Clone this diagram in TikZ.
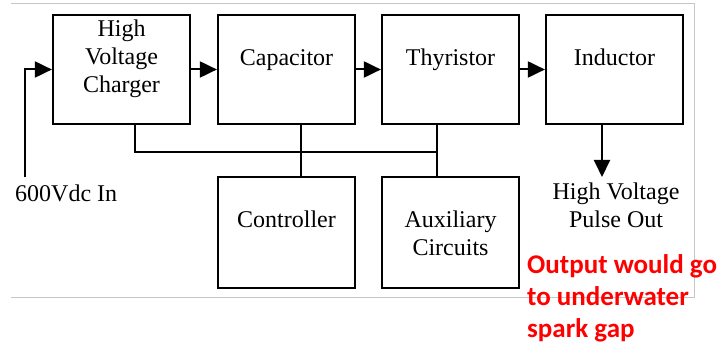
\documentclass[tikz,border=0pt]{standalone}
\usepackage{fontspec}
\setmainfont{Liberation Serif}
\newfontfamily\notefont{Carlito}
\usetikzlibrary{arrows.meta,positioning}

\begin{document}
\begin{tikzpicture}[x=1pt, y=-1pt, node distance=24.8pt,
  blk/.style={draw, line width=2.2pt, minimum width=137pt, minimum height=109pt, inner sep=0pt, align=center, font=\fontsize{24}{28}\selectfont},
  wire/.style={line width=2pt},
  arr/.style={line width=2pt, -{Triangle[length=17pt,width=16pt]}},
  lbl/.style={align=center, inner xsep=0pt, font=\fontsize{24}{28}\selectfont}]
\useasboundingbox (0,0) rectangle (722,347);
\draw[gray!45, line width=1pt] (11,4) -- (694,4) -- (694,297) -- (11,297);

\node[blk, text height=78pt, text depth=31pt] (hvc) at (121.5,69.5) {High\\Voltage\\Charger};
\node[blk, text height=51pt, text depth=58pt, right=25.8pt of hvc] (cap) {Capacitor};
\node[blk, text height=51pt, text depth=58pt, right=of cap] (thy) {Thyristor};
\node[blk, text height=51pt, text depth=58pt, right=of thy] (ind) {Inductor};
\node[blk, minimum height=111pt, text height=51pt, text depth=60pt, below=50.8pt of cap] (ctrl) {Controller};
\node[blk, minimum height=111pt, text height=78pt, text depth=33pt, below=50.8pt of thy] (aux) {Auxiliary\\Circuits};

\node[lbl, anchor=base west, inner ysep=8pt] (vin) at (15,202) {600Vdc In};
\node[lbl, anchor=north, inner ysep=6pt] (vout) at (616,177) {High Voltage\\Pulse Out};
\node[anchor=base west, inner sep=0pt, align=left, text=red, font=\notefont\bfseries\fontsize{27}{32}\selectfont] (note) at (527,337) {Output would go\\to underwater\\spark gap};

\draw[arr] ([xshift=10pt]vin.north west) |- (hvc.west);
\draw[arr] (hvc) -- (cap);
\draw[arr] (cap) -- (thy);
\draw[arr] (thy) -- (ind);
\draw[arr] ([xshift=-12.5pt]ind.south) -- ([xshift=-12.5pt]ind.south |- vout.north);

\draw[wire] ([xshift=14pt]cap.south) -- ([xshift=14pt]ctrl.north);
\draw[wire] ([xshift=-13.5pt]thy.south) -- ([xshift=-13.5pt]aux.north);
\draw[wire] ([xshift=13.5pt]hvc.south) |- ([xshift=-13.5pt,yshift=-27pt]thy.south);
\end{tikzpicture}
\end{document}
